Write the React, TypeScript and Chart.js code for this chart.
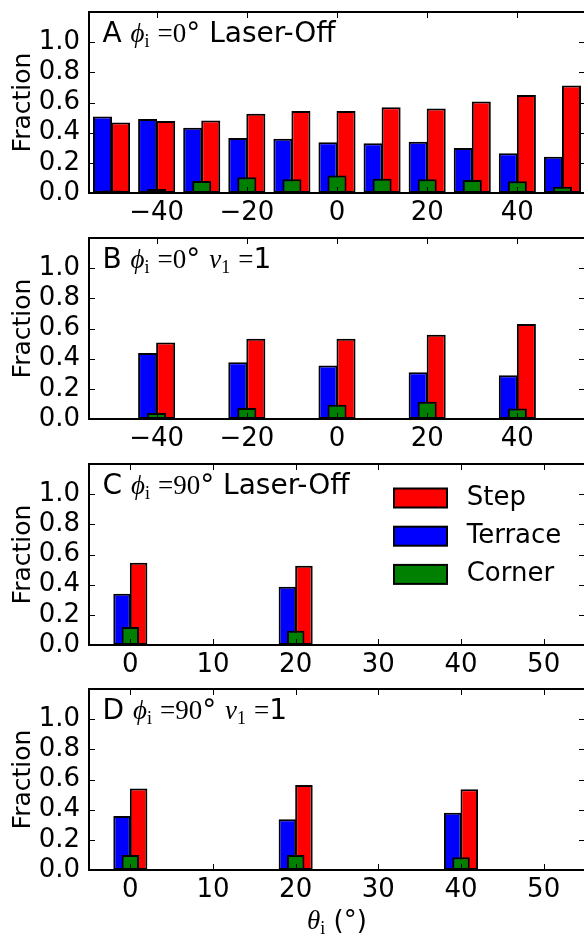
import React, { useEffect, useRef } from "react";
import { Chart, registerables } from "chart.js";

Chart.register(...registerables);

// ---------------- data ----------------
const seriesNames = ["Step", "Terrace", "Corner"];
const seriesColors = ["#ff0000", "#0000ff", "#008000"];

// Panel A: phi_i = 0°, Laser-Off
const thetaA = [-50, -40, -30, -20, -10, 0, 10, 20, 30, 40, 50];
const stepA = [0.468, 0.477, 0.481, 0.526, 0.543, 0.543, 0.568, 0.561, 0.606, 0.65, 0.713];
const terraceA = [0.508, 0.49, 0.432, 0.365, 0.359, 0.336, 0.33, 0.339, 0.298, 0.263, 0.241];
const cornerA = [0.016, 0.027, 0.08, 0.105, 0.091, 0.116, 0.094, 0.091, 0.087, 0.078, 0.042];

// Panel B: phi_i = 0°, nu1 = 1
const thetaB = [-40, -20, 0, 20, 40];
const stepB = [0.508, 0.532, 0.532, 0.559, 0.63];
const terraceB = [0.437, 0.376, 0.354, 0.31, 0.29];
const cornerB = [0.04, 0.073, 0.094, 0.114, 0.069];

// Panel C: phi_i = 90°, Laser-Off
const thetaC = [0, 20];
const stepC = [0.545, 0.525];
const terraceC = [0.339, 0.386];
const cornerC = [0.12, 0.095];

// Panel D: phi_i = 90°, nu1 = 1
const thetaD = [0, 20, 40];
const stepD = [0.54, 0.564, 0.536];
const terraceD = [0.358, 0.336, 0.38];
const cornerD = [0.1, 0.1, 0.084];

const yTickValues = [0, 0.2, 0.4, 0.6, 0.8, 1.0];
const xTickValuesAB = [-40, -20, 0, 20, 40];
const xTickValuesCD = [0, 10, 20, 30, 40, 50];

const yAxisLabel = "Fraction";

type Run = { t: string; f: "sans" | "it" | "serif" | "sub"; pad?: number };

const titleA: Run[] = [
  { t: "A ", f: "sans" },
  { t: "\u03D5", f: "it" },
  { t: "i", f: "sub" },
  { t: "=0", f: "serif", pad: 8 },
  { t: "\u00B0 Laser-Off", f: "sans" },
];
const titleB: Run[] = [
  { t: "B ", f: "sans" },
  { t: "\u03D5", f: "it" },
  { t: "i", f: "sub" },
  { t: "=0", f: "serif", pad: 8 },
  { t: "\u00B0 ", f: "sans" },
  { t: "\u03BD", f: "it" },
  { t: "1", f: "sub" },
  { t: "=", f: "serif", pad: 8 },
  { t: "1", f: "sans" },
];
const titleC: Run[] = [
  { t: "C ", f: "sans" },
  { t: "\u03D5", f: "it" },
  { t: "i", f: "sub" },
  { t: "=90", f: "serif", pad: 8 },
  { t: "\u00B0 Laser-Off", f: "sans" },
];
const titleD: Run[] = [
  { t: "D ", f: "sans" },
  { t: "\u03D5", f: "it" },
  { t: "i", f: "sub" },
  { t: "=90", f: "serif", pad: 8 },
  { t: "\u00B0 ", f: "sans" },
  { t: "\u03BD", f: "it" },
  { t: "1", f: "sub" },
  { t: "=", f: "serif", pad: 8 },
  { t: "1", f: "sans" },
];
const xAxisTitle: Run[] = [
  { t: "\u03B8", f: "it" },
  { t: "i", f: "sub" },
  { t: " (\u00B0)", f: "sans" },
];

// ---------------- layout / style ----------------
const CANVAS_W = 600;
const PLOT_LEFT = 89;
const PLOT_RIGHT = 585;
const TOP_PAD = 12;
const PLOT_H = 181;
const FS = 26;
const TITLE_FS = 28;
const SANS = '"DejaVu Sans", "Liberation Sans", sans-serif';

interface PanelSpec {
  id: string;
  top: number;
  theta: number[];
  step: number[];
  terrace: number[];
  corner: number[];
  xMin: number;
  xMax: number;
  xTicks: number[];
  barUnits: number;
  title: Run[];
  legend: boolean;
  xTitle: boolean;
  axisH: number;
}

const panels: PanelSpec[] = [
  { id: "A", top: 12, theta: thetaA, step: stepA, terrace: terraceA, corner: cornerA, xMin: -55, xMax: 55, xTicks: xTickValuesAB, barUnits: 4, title: titleA, legend: false, xTitle: false, axisH: 40 },
  { id: "B", top: 238, theta: thetaB, step: stepB, terrace: terraceB, corner: cornerB, xMin: -55, xMax: 55, xTicks: xTickValuesAB, barUnits: 4, title: titleB, legend: false, xTitle: false, axisH: 40 },
  { id: "C", top: 464, theta: thetaC, step: stepC, terrace: terraceC, corner: cornerC, xMin: -5, xMax: 55, xTicks: xTickValuesCD, barUnits: 2, title: titleC, legend: true, xTitle: false, axisH: 40 },
  { id: "D", top: 689, theta: thetaD, step: stepD, terrace: terraceD, corner: cornerD, xMin: -5, xMax: 55, xTicks: xTickValuesCD, barUnits: 2, title: titleD, legend: false, xTitle: true, axisH: 934 - 689 - PLOT_H },
];

function fontOf(f: Run["f"], sansSize: number): string {
  switch (f) {
    case "sans":
      return `${sansSize}px ${SANS}`;
    case "it":
      return `italic 27px "Liberation Serif", "DejaVu Serif", serif`;
    case "serif":
      return `27px "Liberation Serif", "DejaVu Serif", serif`;
    case "sub":
    default:
      return `18px "Liberation Serif", "DejaVu Serif", serif`;
  }
}

function runsWidth(ctx: CanvasRenderingContext2D, runs: Run[], sansSize: number): number {
  let w = 0;
  for (const r of runs) {
    ctx.font = fontOf(r.f, sansSize);
    w += (r.pad || 0) + ctx.measureText(r.t).width;
  }
  return w;
}

function drawRuns(ctx: CanvasRenderingContext2D, runs: Run[], x: number, y: number, sansSize: number) {
  let cx = x;
  ctx.textAlign = "left";
  ctx.textBaseline = "alphabetic";
  for (const r of runs) {
    ctx.font = fontOf(r.f, sansSize);
    cx += r.pad || 0;
    ctx.fillText(r.t, cx, y + (r.f === "sub" ? 5 : 0));
    cx += ctx.measureText(r.t).width;
  }
}

function fmtX(v: number): string {
  return v < 0 ? "\u2212" + Math.abs(v) : String(v);
}

function makeDecor(p: PanelSpec) {
  return {
    id: "decor" + p.id,
    afterDatasetsDraw(chart: any) {
      const { ctx, chartArea } = chart;
      const { left, right, top, bottom } = chartArea;
      const xs = chart.scales.x;
      const ys = chart.scales.y;
      ctx.save();
      ctx.strokeStyle = "#000";
      ctx.lineWidth = 1;
      const tl = 6;
      ctx.beginPath();
      for (const t of xs.ticks) {
        const px = Math.round(xs.getPixelForValue(t.value)) + 0.5;
        ctx.moveTo(px, bottom);
        ctx.lineTo(px, bottom - tl);
        ctx.moveTo(px, top);
        ctx.lineTo(px, top + tl);
      }
      for (const t of ys.ticks) {
        const py = Math.round(ys.getPixelForValue(t.value)) + 0.5;
        ctx.moveTo(left, py);
        ctx.lineTo(left + tl, py);
        ctx.moveTo(right, py);
        ctx.lineTo(right - tl, py);
      }
      ctx.stroke();
      ctx.lineWidth = 2;
      ctx.strokeRect(left, top, right - left, bottom - top);

      ctx.fillStyle = "#000";
      drawRuns(ctx, p.title, left + 13.5, top + 29.5, TITLE_FS);

      if (p.legend) {
        chart.data.datasets.forEach((ds: any, i: number) => {
          const cy = top + 34 + i * 38.2;
          const px = left + 305;
          ctx.fillStyle = ds.backgroundColor;
          ctx.fillRect(px, cy - 9.5, 53, 19);
          ctx.lineWidth = 2;
          ctx.strokeStyle = "#000";
          ctx.strokeRect(px, cy - 9.5, 53, 19);
          ctx.fillStyle = "#000";
          ctx.font = `${FS}px ${SANS}`;
          ctx.textAlign = "left";
          ctx.textBaseline = "middle";
          ctx.fillText(ds.label, left + 377.7, cy);
        });
      }

      if (p.xTitle) {
        ctx.fillStyle = "#000";
        const w = runsWidth(ctx, xAxisTitle, FS);
        drawRuns(ctx, xAxisTitle, (left + right) / 2 - w / 2, bottom + 58.5, FS);
      }
      ctx.restore();
    },
  };
}

function Panel({ p }: { p: PanelSpec }) {
  const ref = useRef<HTMLCanvasElement>(null);
  const canvasH = TOP_PAD + PLOT_H + p.axisH;

  useEffect(() => {
    const canvas = ref.current;
    if (!canvas) return;
    const unitPx = (PLOT_RIGHT - PLOT_LEFT) / (p.xMax - p.xMin);
    const thick = p.barUnits * unitPx + 1;
    const series = [p.step, p.terrace, p.corner];
    const offsets = [p.barUnits / 2, -p.barUnits / 2, 0];
    const orders = [1, 2, 0];
    const datasets = series.map((vals, si) => ({
      label: seriesNames[si],
      data: p.theta.map((x, k) => ({ x: x + offsets[si], y: vals[k] })),
      backgroundColor: seriesColors[si],
      borderColor: "#000",
      borderWidth: 2,
      borderSkipped: false,
      barThickness: thick,
      grouped: false,
      inflateAmount: 0,
      order: orders[si],
    }));

    const chart = new Chart(canvas, {
      type: "bar",
      data: { datasets } as any,
      options: {
        responsive: false,
        animation: false,
        devicePixelRatio: 1,
        events: [],
        layout: { padding: { left: 0, right: CANVAS_W - PLOT_RIGHT, top: TOP_PAD, bottom: 0 } },
        plugins: {
          legend: { display: false },
          tooltip: { enabled: false },
          title: { display: false },
        },
        scales: {
          x: {
            type: "linear",
            min: p.xMin,
            max: p.xMax,
            offset: false,
            grid: { display: false, drawTicks: false },
            border: { display: false },
            afterBuildTicks: (ax: any) => {
              ax.ticks = p.xTicks.map((v) => ({ value: v }));
            },
            afterFit: (ax: any) => {
              ax.height = p.axisH;
              ax.paddingLeft = 0;
              ax.paddingRight = 0;
              ax.paddingTop = 0;
              ax.paddingBottom = 0;
            },
            ticks: {
              autoSkip: false,
              maxRotation: 0,
              minRotation: 0,
              padding: 5,
              color: "#000",
              font: { family: SANS, size: FS },
              callback: (v: any) => fmtX(Number(v)),
            },
          },
          y: {
            type: "linear",
            min: 0,
            max: 1.2,
            grid: { display: false, drawTicks: false },
            border: { display: false },
            afterBuildTicks: (ax: any) => {
              ax.ticks = yTickValues.map((v) => ({ value: v }));
            },
            afterFit: (ax: any) => {
              ax.width = PLOT_LEFT;
              ax.paddingLeft = 0;
              ax.paddingRight = 0;
              ax.paddingTop = 0;
              ax.paddingBottom = 0;
            },
            ticks: {
              padding: 9,
              color: "#000",
              font: { family: SANS, size: FS },
              callback: (v: any) => Number(v).toFixed(1),
            },
            title: {
              display: true,
              text: yAxisLabel,
              color: "#000",
              font: { family: SANS, size: 25 },
              padding: { top: 8, bottom: 0 },
            },
          },
        },
      } as any,
      plugins: [makeDecor(p)],
    });
    return () => chart.destroy();
  }, [p]);

  return (
    <canvas
      ref={ref}
      width={CANVAS_W}
      height={canvasH}
      style={{ position: "absolute", left: 0, top: p.top - TOP_PAD, width: CANVAS_W, height: canvasH, display: "block" }}
    />
  );
}

export default function App() {
  return (
    <div
      style={{
        position: "absolute",
        left: 0,
        top: 0,
        width: 584,
        height: 934,
        overflow: "hidden",
        background: "#fff",
      }}
    >
      {panels.map((p) => (
        <Panel key={p.id} p={p} />
      ))}
    </div>
  );
}
